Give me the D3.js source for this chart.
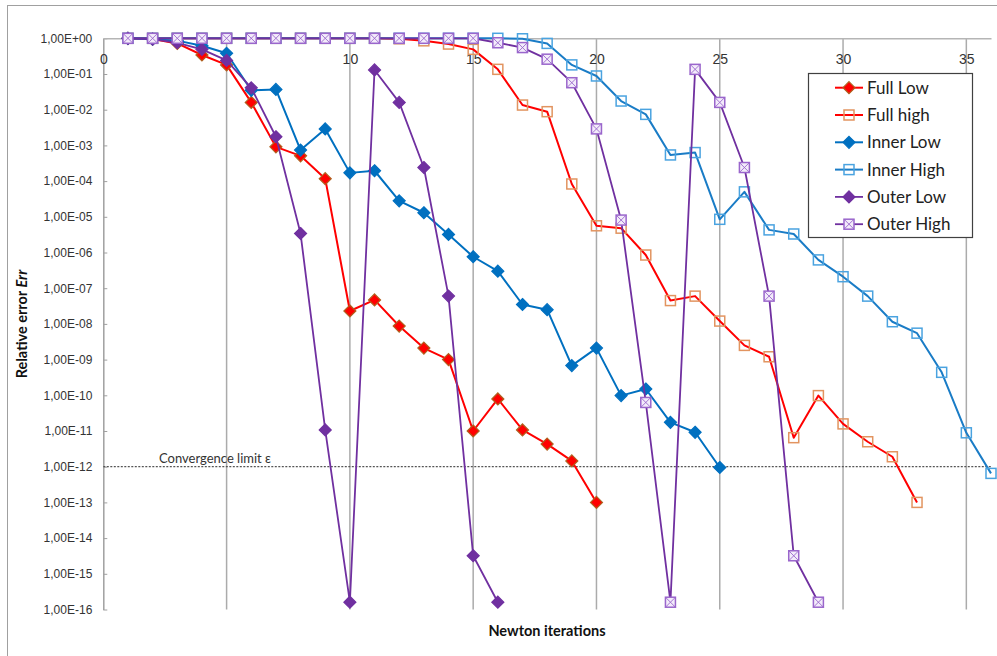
<!DOCTYPE html>
<html>
<head>
<meta charset="utf-8">
<script src="https://cdn.jsdelivr.net/npm/d3@7"></script>
<style>
  html, body { margin: 0; padding: 0; background: #fff; }
  svg { display: block; font-family: Lato, "Liberation Sans", sans-serif; }
</style>
</head>
<body>
<svg id="chart" width="997" height="656"></svg>
<script>
// ---- Data (Newton iteration k = index + 1) ----
const seriesNames = ["Full Low", "Full high", "Inner Low", "Inner High", "Outer Low", "Outer High"];

const fullLow = [1, 0.95, 0.72, 0.34, 0.18, 0.016, 9.1e-4, 5.1e-4, 1.17e-4, 2.3e-8,
  4.7e-8, 8.7e-9, 2.1e-9, 1.0e-9, 1.0e-11, 7.9e-11, 1.07e-11, 4.3e-12, 1.45e-12, 1.0e-13];

const fullHigh = [1, 1, 1, 1, 1, 1, 1, 1, 1, 1,
  1, 0.97, 0.85, 0.69, 0.49, 0.135, 0.0135, 0.0088, 8.3e-5, 5.6e-6,
  4.8e-6, 8.5e-7, 4.5e-8, 6.0e-8, 1.2e-8, 2.5e-9, 1.2e-9, 6.5e-12, 9.8e-11, 1.58e-11,
  5.0e-12, 1.9e-12, 1.0e-13];

const innerLow = [1, 0.94, 0.86, 0.62, 0.38, 0.035, 0.037, 7.4e-4, 2.9e-3, 1.7e-4,
  1.95e-4, 2.8e-5, 1.3e-5, 3.2e-6, 7.6e-7, 3.0e-7, 3.5e-8, 2.5e-8, 6.8e-10, 2.1e-9,
  9.8e-11, 1.5e-10, 1.75e-11, 9.2e-12, 9.5e-13];

const innerHigh = [1, 1, 1, 1, 1, 1, 1, 1, 1, 1,
  1, 1, 1, 1, 1, 1, 0.97, 0.72, 0.18, 0.088,
  0.0175, 0.0074, 5.4e-4, 6.3e-4, 8.5e-6, 5.0e-5, 4.3e-6, 3.3e-6, 6.2e-7, 2.1e-7,
  6.0e-8, 1.15e-8, 5.5e-9, 4.4e-10, 8.9e-12, 6.5e-13];

const outerLow = [1, 0.95, 0.75, 0.49, 0.24, 0.041, 1.75e-3, 3.4e-6, 1.07e-11, 1.6e-16,
  0.13, 0.016, 2.4e-4, 6.0e-8, 3.2e-15, 1.6e-16];

const outerHigh = [1, 1, 1, 1, 1, 1, 1, 1, 1, 1,
  1, 1, 1, 1, 1, 0.75, 0.55, 0.26, 0.057, 2.9e-3,
  8.1e-6, 6.3e-11, 1.6e-16, 0.135, 0.016, 2.4e-4, 6.0e-8, 3.2e-15, 1.6e-16];

const convergenceLimit = 1e-12;
const xTicks = [0, 5, 10, 15, 20, 25, 30, 35];
const yExponents = [0, -1, -2, -3, -4, -5, -6, -7, -8, -9, -10, -11, -12, -13, -14, -15, -16];

// ---- Styles ----
const styles = [
  { line: "#FF0000", marker: "diamond", fill: "#FF0000", stroke: "#B0601E", lw: 2 },
  { line: "#FF0000", marker: "square", fill: "none", stroke: "#E29460", lw: 2 },
  { line: "#0070C0", marker: "diamond", fill: "#0070C0", stroke: "#0070C0", lw: 2 },
  { line: "#1A7CC6", marker: "square", fill: "none", stroke: "#4AA3E0", lw: 2 },
  { line: "#7030A0", marker: "diamond", fill: "#7030A0", stroke: "#7030A0", lw: 1.8 },
  { line: "#7030A0", marker: "xsquare", fill: "#F3ECFA", stroke: "#9A66CC", lw: 1.8 }
];
const seriesData = [fullLow, fullHigh, innerLow, innerHigh, outerLow, outerHigh];

// ---- Layout ----
const svg = d3.select("#chart");
const x = d3.scaleLinear().domain([0, 36]).range([103.3, 991]);
const y = d3.scaleLog().domain([1e-16, 1]).range([609.5, 38.3]);

// outer chart border (right/bottom edges fall outside the view)
svg.append("rect").attr("x", 7.5).attr("y", 5.5).attr("width", 1010).attr("height", 680)
  .attr("fill", "none").attr("stroke", "#A0A0A0").attr("stroke-width", 1);

// vertical gridlines
svg.append("g").selectAll("line").data(xTicks.filter(d => d > 0)).join("line")
  .attr("x1", d => x(d)).attr("x2", d => x(d))
  .attr("y1", y(1)).attr("y2", y(1e-16))
  .attr("stroke", "#ABABAB").attr("stroke-width", 1.5);

// y axis
const fmt = v => {
  const e = Math.round(Math.log10(v));
  const s = e < 0 ? "-" : "+";
  const a = Math.abs(e);
  return "1,00E" + s + (a < 10 ? "0" + a : "" + a);
};
const yAxis = svg.append("g").attr("transform", `translate(${x(0)},0)`)
  .call(d3.axisLeft(y).tickValues(yExponents.map(e => Math.pow(10, e)))
    .tickFormat(fmt).tickSizeInner(-4).tickSizeOuter(0).tickPadding(11));
yAxis.select(".domain").attr("stroke", "#A0A0A0").attr("stroke-width", 1.5);
yAxis.selectAll(".tick line").attr("stroke", "#A0A0A0").attr("stroke-width", 1);
yAxis.selectAll("text").attr("font-size", 12).attr("fill", "#333");

// x axis (crosses at 1E+00, top)
const xAxis = svg.append("g").attr("transform", `translate(0,${y(1)})`)
  .call(d3.axisBottom(x).tickValues(xTicks).tickSize(0).tickPadding(16));
xAxis.select(".domain").attr("stroke", "#B5B5B5").attr("stroke-width", 1.5);
xAxis.selectAll("text").attr("font-size", 14).attr("fill", "#333");

// convergence limit line
svg.append("line")
  .attr("x1", x(0)).attr("x2", x(36))
  .attr("y1", y(convergenceLimit)).attr("y2", y(convergenceLimit))
  .attr("stroke", "#555").attr("stroke-width", 1.2).attr("stroke-dasharray", "2,1.5");
svg.append("text").attr("x", 159).attr("y", y(convergenceLimit) - 4)
  .attr("font-size", 13).attr("fill", "#333").text("Convergence limit ε");

// axis titles
svg.append("text").attr("transform", `translate(27,324) rotate(-90)`)
  .attr("text-anchor", "middle").attr("font-size", 14.5).attr("font-weight", "bold").attr("fill", "#111")
  .call(t => {
    t.append("tspan").text("Relative error ");
    t.append("tspan").attr("font-style", "italic").text("Err");
  });
svg.append("text").attr("x", 547).attr("y", 636).attr("text-anchor", "middle")
  .attr("font-size", 14.5).attr("font-weight", "bold").attr("fill", "#111").text("Newton iterations");

// markers
function drawMarker(g, st, cx, cy) {
  if (st.marker === "diamond") {
    const r = 6;
    g.append("path").attr("d", `M${cx},${cy - r}L${cx + r},${cy}L${cx},${cy + r}L${cx - r},${cy}Z`)
      .attr("fill", st.fill).attr("stroke", st.stroke).attr("stroke-width", 1.2);
  } else {
    const h = 5;
    g.append("rect").attr("x", cx - h).attr("y", cy - h).attr("width", 2 * h).attr("height", 2 * h)
      .attr("fill", st.fill).attr("stroke", st.stroke).attr("stroke-width", 1.5);
    if (st.marker === "xsquare") {
      g.append("path").attr("d", `M${cx - h},${cy - h}L${cx + h},${cy + h}M${cx + h},${cy - h}L${cx - h},${cy + h}`)
        .attr("stroke", st.stroke).attr("stroke-width", 0.9);
    }
  }
}

// series
const line = d3.line().x((d, i) => x(i + 1)).y(d => y(d));
seriesData.forEach((vals, si) => {
  const st = styles[si];
  const g = svg.append("g");
  g.append("path").datum(vals).attr("d", line)
    .attr("fill", "none").attr("stroke", st.line).attr("stroke-width", st.lw)
    .attr("stroke-linejoin", "round");
  vals.forEach((v, i) => drawMarker(g, st, x(i + 1), y(v)));
});

// legend
const lg = svg.append("g");
lg.append("rect").attr("x", 808.5).attr("y", 73.5).attr("width", 164).attr("height", 164)
  .attr("fill", "#fff").attr("stroke", "#404040").attr("stroke-width", 1.2);
seriesNames.forEach((name, i) => {
  const st = styles[i];
  const cy = 87.7 + i * 27.3;
  lg.append("line").attr("x1", 835).attr("x2", 863).attr("y1", cy).attr("y2", cy)
    .attr("stroke", st.line).attr("stroke-width", st.lw);
  drawMarker(lg, st, 849, cy);
  lg.append("text").attr("x", 867).attr("y", cy).attr("dy", "0.35em")
    .attr("font-size", 17).attr("fill", "#222").text(name);
});
</script>
</body>
</html>
